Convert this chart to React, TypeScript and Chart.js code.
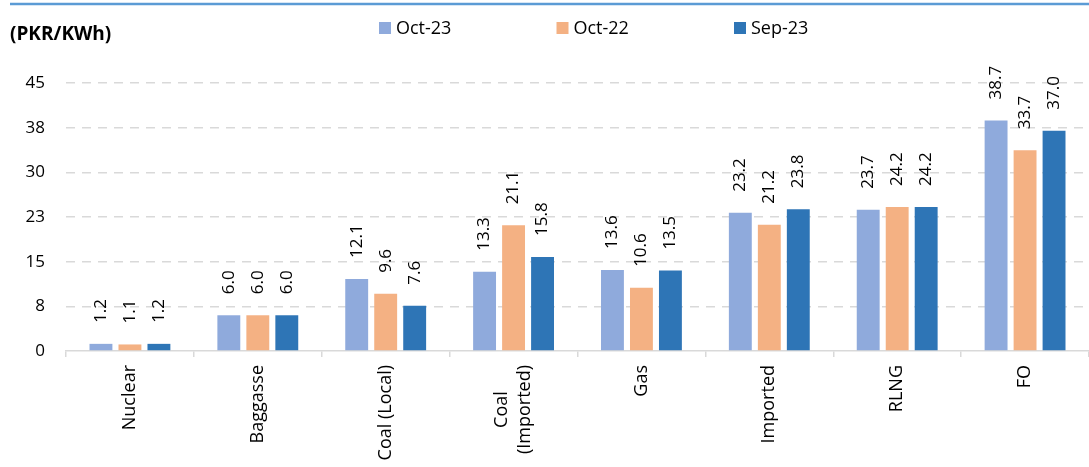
import React, { useEffect, useRef } from "react";
import { Chart, registerables } from "chart.js";
Chart.register(...registerables);

const categories: string[][] = [
  ["Nuclear"],
  ["Baggasse"],
  ["Coal (Local)"],
  ["Coal", "(Imported)"],
  ["Gas"],
  ["Imported"],
  ["RLNG"],
  ["FO"],
];
const oct23 = [1.2, 6.0, 12.1, 13.3, 13.6, 23.2, 23.7, 38.7];
const oct22 = [1.1, 6.0, 9.6, 21.1, 10.6, 21.2, 24.2, 33.7];
const sep23 = [1.2, 6.0, 7.6, 15.8, 13.5, 23.8, 24.2, 37.0];
const seriesLabels = ["Oct-23", "Oct-22", "Sep-23"];
const seriesColors = ["#8FAADC", "#F4B183", "#2E75B6"];
const yMin = 0;
const yMax = 45;
const yStep = 7.5;
const unitLabel = "(PKR/KWh)";

const FONT = "'Open Sans', 'Noto Sans', sans-serif";
const W = 1089;
const H = 467;

const decorPlugin = {
  id: "decor",
  afterDraw(chart: any) {
    const ctx = chart.ctx;
    ctx.save();
    // top rule
    ctx.strokeStyle = "#5B9BD5";
    ctx.lineWidth = 2.5;
    ctx.beginPath();
    ctx.moveTo(10, 4);
    ctx.lineTo(chart.width, 4);
    ctx.stroke();
    // unit label
    ctx.fillStyle = "#000";
    ctx.font = `bold 19px ${FONT}`;
    ctx.textAlign = "left";
    ctx.textBaseline = "middle";
    ctx.fillText(unitLabel, 10, 35);
    // legend
    const legendX0 = 379;
    const legendGap = 177.5;
    ctx.font = `18px ${FONT}`;
    chart.data.datasets.forEach((ds: any, i: number) => {
      const sx = legendX0 + i * legendGap;
      ctx.fillStyle = ds.backgroundColor;
      ctx.fillRect(sx, 22, 12, 12);
      ctx.fillStyle = "#000";
      ctx.fillText(ds.label, sx + 17, 28.5);
    });
    // x labels
    const xs = chart.scales.x;
    const lineH = 23;
    ctx.font = `18px ${FONT}`;
    ctx.fillStyle = "#000";
    ctx.textAlign = "center";
    ctx.textBaseline = "middle";
    (chart.data.labels as string[][]).forEach((lines, i) => {
      const x = xs.getPixelForValue(i);
      const maxW = Math.max(...lines.map((l) => ctx.measureText(l).width));
      const cy = chart.chartArea.bottom + 14 + maxW / 2;
      lines.forEach((line, j) => {
        const lx = x + (j - (lines.length - 1) / 2) * lineH;
        ctx.save();
        ctx.translate(lx, cy);
        ctx.rotate(-Math.PI / 2);
        ctx.fillText(line, 0, 0);
        ctx.restore();
      });
    });
    ctx.restore();
  },
  afterDatasetsDraw(chart: any) {
    const ctx = chart.ctx;
    ctx.save();
    ctx.font = `17px ${FONT}`;
    ctx.fillStyle = "#000";
    ctx.textAlign = "left";
    ctx.textBaseline = "middle";
    chart.data.datasets.forEach((ds: any, di: number) => {
      const meta = chart.getDatasetMeta(di);
      meta.data.forEach((el: any, i: number) => {
        ctx.save();
        ctx.translate(el.x, el.y - 21);
        ctx.rotate(-Math.PI / 2);
        ctx.fillText(Number(ds.data[i]).toFixed(1), 0, 0);
        ctx.restore();
      });
    });
    ctx.restore();
  },
};

export default function App() {
  const ref = useRef<HTMLCanvasElement | null>(null);
  useEffect(() => {
    document.body.style.margin = "0";
    const canvas = ref.current;
    if (!canvas) return;
    const series = [oct23, oct22, sep23];
    const chart = new Chart(canvas, {
      type: "bar",
      data: {
        labels: categories as any,
        datasets: series.map((d, i) => ({
          label: seriesLabels[i],
          data: d,
          backgroundColor: seriesColors[i],
          borderWidth: 0,
          categoryPercentage: 0.68,
          barPercentage: 0.79,
        })),
      },
      options: {
        animation: false,
        responsive: false,
        layout: { padding: { top: 83, left: 0, right: 0, bottom: 0 } },
        plugins: {
          legend: { display: false },
          tooltip: { enabled: false },
          title: { display: false },
        },
        scales: {
          x: {
            ticks: { display: false },
            grid: {
              display: true,
              drawOnChartArea: false,
              drawTicks: true,
              tickLength: 6,
              color: "#D9D9D9",
              lineWidth: 1.5,
            },
            border: { display: true, color: "#D9D9D9", width: 1.5 },
            afterFit: (s: any) => {
              s.height = 116;
            },
          },
          y: {
            min: yMin,
            max: yMax,
            ticks: {
              stepSize: yStep,
              padding: 21,
              color: "#000",
              font: { family: FONT, size: 17 },
              callback: (v: any) => String(Math.round(Number(v))),
            },
            grid: {
              drawTicks: false,
              color: (c: any) => (c.tick && c.tick.value === 0 ? "rgba(0,0,0,0)" : "#D9D9D9"),
              lineWidth: 1.5,
            },
            border: { display: false, dash: [9, 7] },
            afterFit: (s: any) => {
              s.width = 66;
            },
          },
        },
      },
      plugins: [decorPlugin],
    });
    return () => chart.destroy();
  }, []);
  return (
    <div style={{ width: W, height: H, position: "relative" }}>
      <canvas ref={ref} width={W} height={H} style={{ display: "block" }} />
    </div>
  );
}
